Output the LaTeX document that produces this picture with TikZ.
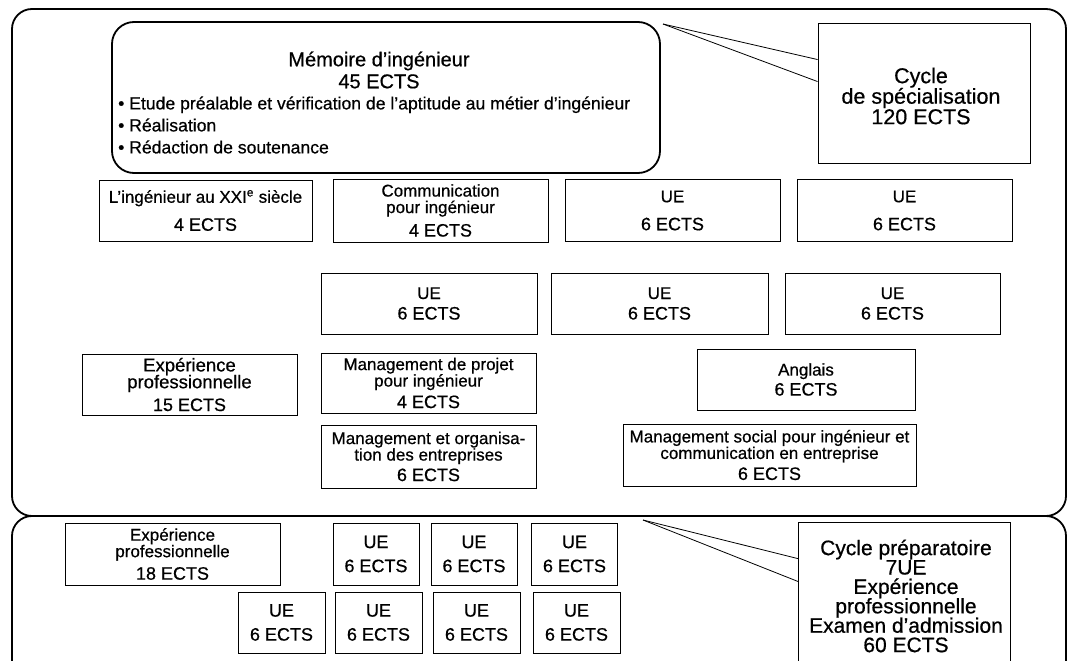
\documentclass[tikz,border=0pt]{standalone}
\usepackage{fontspec}
\setmainfont{Liberation Sans}[FakeBold=0.6]
\usetikzlibrary{calc}
\newcommand\ectsf{\fontsize{18}{18}\selectfont}
\newcommand\tightls{\lineskiplimit-50pt\relax}
\begin{document}
\begin{tikzpicture}[x=1pt,y=-1pt,
  frame/.style={draw, line width=1.8pt, rounded corners=20pt},
  box/.style={draw, line width=0.9pt, align=center, inner sep=0pt,
    font={\fontsize{17}{16.5}\selectfont\tightls}},
  lue/.style={box, font={\fontsize{18}{24}\selectfont\tightls}},
  callout/.style={draw, line width=0.8pt},
]
\useasboundingbox (0,0) rectangle (1069,661);

% frames
\draw[frame] (12,9) rectangle (1066,516);
\draw[frame] (12,661) -- (12,516) -- (1066,516) -- (1066,661);

% Memoire
\node[draw, line width=1.8pt, rounded corners=22pt, minimum width=548pt, minimum height=151pt] (mem) at (386,97.5) {};
\node[align=center, font={\fontsize{20}{22}\selectfont}] (memt) at (379,70) {Mémoire d’ingénieur\\45 ECTS};
\node[align=left, anchor=west, inner sep=0pt, font={\fontsize{17.6}{22}\selectfont}] (memb) at (118,125)
  {\textbullet\ Etude préalable et vérification de l'aptitude au métier d'ingénieur\\
   \textbullet\ Réalisation\\
   \textbullet\ Rédaction de soutenance};

% Cycle de specialisation
\node[draw, line width=0.9pt, minimum width=212pt, minimum height=140pt] (cs) at (924,93) {};
\node[align=center, inner sep=0pt, font={\fontsize{21.5}{20.5}\selectfont\tightls}] (cst) at (921,96) {Cycle\\de spécialisation\\120 ECTS};
\coordinate (ca) at (663,24);
\draw[callout] (ca) -- ($(cs.north west)+(0,37)$);
\draw[callout] (ca) -- ($(cs.north west)+(0,59)$);

% row 1
\node[box, minimum width=213pt, minimum height=61pt] (n1) at (205.5,210.5) {L'ingénieur au XXI\textsuperscript{e} siècle\\[11.5pt]{\ectsf 4 ECTS}};
\node[box, minimum width=215pt, minimum height=63pt] (n2) at (440.5,210.5) {Communication\\pour ingénieur\\[7pt]{\ectsf 4 ECTS}};
\node[box, minimum width=215pt, minimum height=62pt] (n3) at (672.5,210.5) {UE\\[11.5pt]{\ectsf 6 ECTS}};
\node[box, minimum width=215pt, minimum height=62pt] (n4) at (904.5,210.5) {UE\\[11.5pt]{\ectsf 6 ECTS}};

% row 2
\node[box, minimum width=216pt, minimum height=61pt] (r1) at (429,303.5) {UE\\[4pt]{\ectsf 6 ECTS}};
\node[box, minimum width=217pt, minimum height=61pt] (r2) at (659.5,303.5) {UE\\[4pt]{\ectsf 6 ECTS}};
\node[box, minimum width=215pt, minimum height=61pt] (r3) at (892.5,303.5) {UE\\[4pt]{\ectsf 6 ECTS}};

% row 3
\node[box, minimum width=215pt, minimum height=61pt, font={\fontsize{18.5}{16.8}\selectfont\tightls}] (e15) at (189.5,384.5) {Expérience\\professionnelle\\[6pt]{\ectsf 15 ECTS}};
\node[box, minimum width=215pt, minimum height=60pt] (mp) at (428.5,383) {Management de projet\\pour ingénieur\\[5pt]{\ectsf 4 ECTS}};
\node[box, minimum width=218pt, minimum height=61pt] (ang) at (806,379.5) {Anglais\\[3.5pt]{\ectsf 6 ECTS}};
\node[box, minimum width=215pt, minimum height=63pt] (mo) at (428.5,456.5) {Management et organisa-\\tion des entreprises\\[4pt]{\ectsf 6 ECTS}};
\node[box, minimum width=293pt, minimum height=62pt] (ms) at (769.5,455) {Management social pour ingénieur et\\communication en entreprise\\[4.5pt]{\ectsf 6 ECTS}};

% lower part
\node[box, minimum width=215pt, minimum height=62pt] (e18) at (172.5,554) {Expérience\\professionnelle\\[6pt]{\ectsf 18 ECTS}};
\node[lue, minimum width=86pt, minimum height=62pt] (u1) at (376,554) {UE\\6 ECTS};
\node[lue, minimum width=86pt, minimum height=62pt] (u2) at (474,554) {UE\\6 ECTS};
\node[lue, minimum width=86pt, minimum height=62pt] (u3) at (574.5,554) {UE\\6 ECTS};
\node[lue, minimum width=87pt, minimum height=61pt] (u4) at (281.5,622.5) {UE\\6 ECTS};
\node[lue, minimum width=87pt, minimum height=61pt] (u5) at (378.5,622.5) {UE\\6 ECTS};
\node[lue, minimum width=87pt, minimum height=61pt] (u6) at (476.5,622.5) {UE\\6 ECTS};
\node[lue, minimum width=87pt, minimum height=61pt] (u7) at (576.5,622.5) {UE\\6 ECTS};

% Cycle preparatoire
\node[minimum width=211pt, minimum height=138pt, inner sep=0pt] (cp) at (904.5,592) {};
\draw[line width=0.9pt] (cp.south west) -- (cp.north west) -- (cp.north east) -- (cp.south east);
\node[align=center, inner sep=0pt, font={\fontsize{21}{19.4}\selectfont\tightls}] (cpt) at (906,596)
  {Cycle préparatoire\\7UE\\Expérience\\professionnelle\\Examen d'admission\\60 ECTS};
\coordinate (cb) at (643,520);
\draw[callout] (cb) -- ($(cp.north west)+(0,36)$);
\draw[callout] (cb) -- ($(cp.north west)+(0,59)$);
\end{tikzpicture}
\end{document}
